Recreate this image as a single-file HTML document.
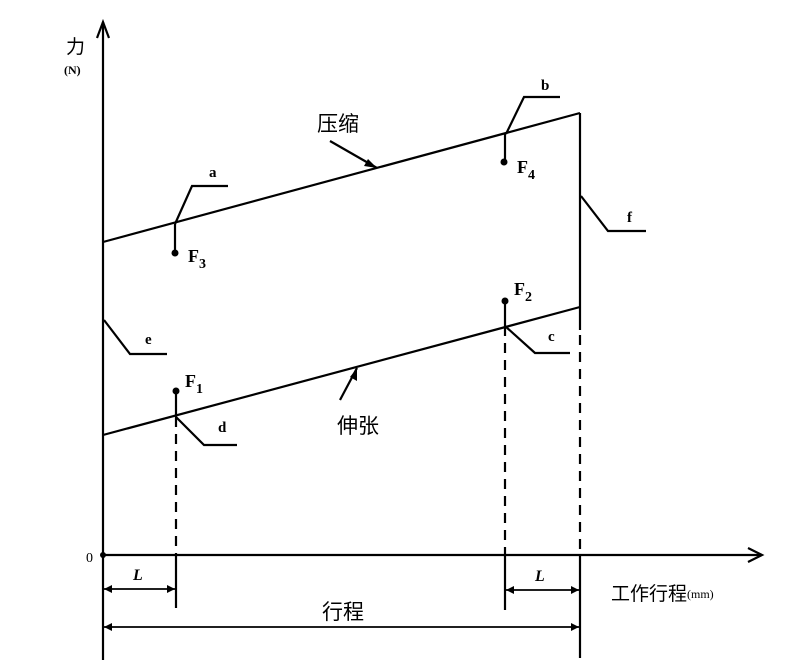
<!DOCTYPE html>
<html><head><meta charset="utf-8"><style>
body{margin:0;background:#fff}
svg{display:block}
text{font-family:"Liberation Serif","Noto Serif CJK SC",serif;fill:#000}
.c{font-family:"Liberation Sans","Noto Sans CJK SC",sans-serif}
</style></head><body>
<svg width="809" height="670" viewBox="0 0 809 670" xmlns="http://www.w3.org/2000/svg">
<g stroke="#000" stroke-width="2.2" fill="none">
<line x1="103" y1="22" x2="103" y2="660"/>
<polyline points="97,38 103,22 109,38"/>
<line x1="103" y1="555" x2="762" y2="555"/>
<polyline points="748,548 762,555 748,562"/>
<line x1="103" y1="242" x2="580" y2="113"/>
<line x1="103" y1="435" x2="580" y2="307"/>
<line x1="580" y1="113" x2="580" y2="330"/>
<line x1="580" y1="335" x2="580" y2="555" stroke-dasharray="10,7"/>
<line x1="580" y1="555" x2="580" y2="658"/>
<line x1="176" y1="417" x2="176" y2="555" stroke-dasharray="10,7"/>
<line x1="176" y1="555" x2="176" y2="608"/>
<line x1="505" y1="326" x2="505" y2="555" stroke-dasharray="10,7"/>
<line x1="505" y1="555" x2="505" y2="610"/>
<line x1="175" y1="224" x2="175" y2="253"/>
<line x1="505" y1="134" x2="505" y2="162"/>
<line x1="505" y1="301" x2="505" y2="326"/>
<line x1="176" y1="391" x2="176" y2="417"/>
<polyline points="175,224 192,186 228,186"/>
<polyline points="506,134 524,97 560,97"/>
<polyline points="581,196 608,231 646,231"/>
<polyline points="104,320 130,354 167,354"/>
<polyline points="505,326 535,353 570,353"/>
<polyline points="176,417 204,445 237,445"/>
<line x1="330" y1="141" x2="377" y2="168"/>
<line x1="340" y1="400" x2="357" y2="368"/>
<line x1="104" y1="589" x2="175" y2="589" stroke-width="1.8"/>
<line x1="506" y1="590" x2="579" y2="590" stroke-width="1.8"/>
<line x1="104" y1="627" x2="579" y2="627" stroke-width="1.8"/>
</g>
<g fill="#000">
<polygon points="377,168 364,166 368,159"/>
<polygon points="357,368 357,381 350,377"/>
<circle cx="175" cy="253" r="3.5"/>
<circle cx="504" cy="162" r="3.5"/>
<circle cx="505" cy="301" r="3.5"/>
<circle cx="176" cy="391" r="3.5"/>
<circle cx="103" cy="555" r="3"/>
<polygon points="104,589 112,585 112,593"/><polygon points="175,589 167,585 167,593"/>
<polygon points="506,590 514,586 514,594"/><polygon points="579,590 571,586 571,594"/>
<polygon points="104,627 112,623 112,631"/><polygon points="579,627 571,623 571,631"/>
</g>
<text class="c" x="66" y="53" font-size="19">力</text>
<text x="64" y="74" font-size="12" font-weight="bold">(N)</text>
<text x="86" y="562" font-size="14">0</text>
<text class="c" x="317" y="131" font-size="21">压缩</text>
<text class="c" x="337" y="433" font-size="21">伸张</text>
<text class="c" x="322" y="619" font-size="21">行程</text>
<text class="c" x="611" y="600" font-size="19">工作行程</text>
<text x="687" y="598" font-size="12">(mm)</text>
<text x="133" y="580" font-size="16" font-style="italic" font-weight="bold">L</text>
<text x="535" y="581" font-size="16" font-style="italic" font-weight="bold">L</text>
<g font-size="15" font-weight="bold">
<text x="209" y="177">a</text>
<text x="541" y="90">b</text>
<text x="548" y="341">c</text>
<text x="218" y="432">d</text>
<text x="145" y="344">e</text>
<text x="627" y="222">f</text>
</g>
<g font-size="18" font-weight="bold">
<text x="188" y="262">F<tspan font-size="14" dy="6">3</tspan></text>
<text x="517" y="173">F<tspan font-size="14" dy="6">4</tspan></text>
<text x="514" y="295">F<tspan font-size="14" dy="6">2</tspan></text>
<text x="185" y="387">F<tspan font-size="14" dy="6">1</tspan></text>
</g>
</svg>
</body></html>
